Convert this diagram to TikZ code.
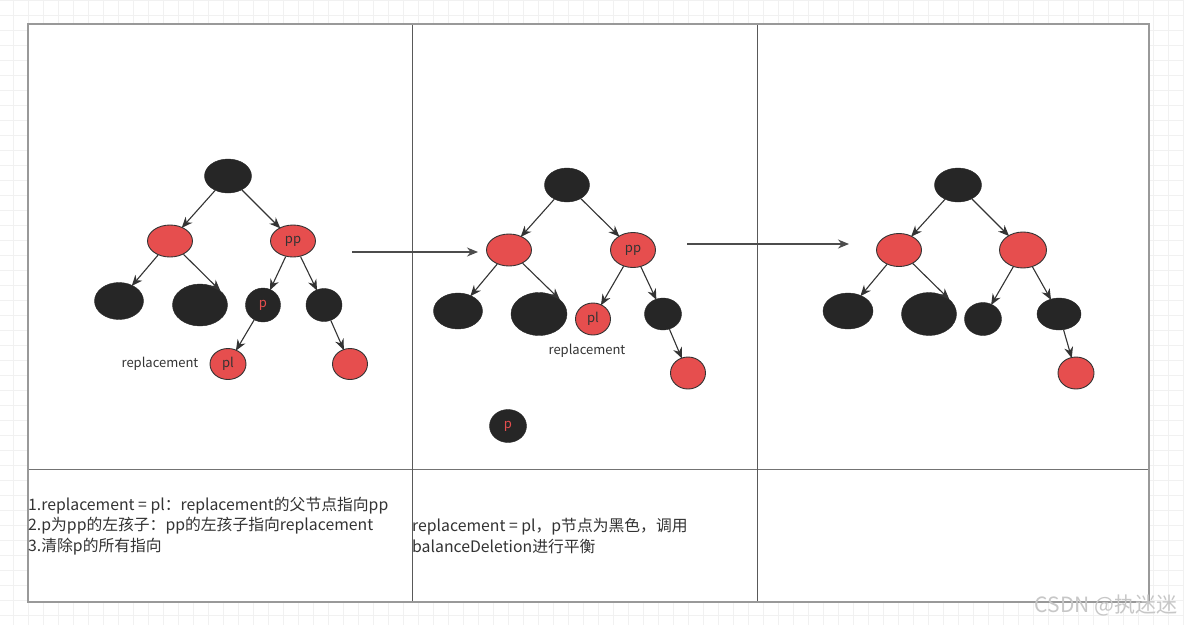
\documentclass[tikz,border=0pt]{standalone}
\usepackage{fontspec}
\setmainfont{Noto Sans CJK SC}
\usepackage{xcolor}
\usetikzlibrary{arrows.meta, shapes.geometric}

\definecolor{nodeblack}{HTML}{262626}
\definecolor{nodered}{HTML}{E64E4E}
\definecolor{linegray}{HTML}{333333}
\definecolor{gridgray}{HTML}{F1F1F1}

\begin{document}
\begin{tikzpicture}[
    x=1pt, y=-1pt,
    every node/.style={font=\fontsize{13}{15}\selectfont, text=linegray},
    bnode/.style={
        ellipse,
        draw=nodeblack,
        fill=nodeblack,
        inner sep=0pt,
        text=nodered
    },
    rnode/.style={
        ellipse,
        draw=linegray,
        line width=0.9pt,
        fill=nodered,
        inner sep=0pt
    },
    edge/.style={-{Stealth[length=11pt, width=9pt]}, draw=linegray, line width=1.1pt, shorten >=-1pt},
    note/.style={anchor=west, align=left, inner sep=0pt,
        font=\fontsize{15.8}{20.5}\selectfont, text=linegray}
]

% background grid
\useasboundingbox (0,0) rectangle (1184,625);
\fill[white] (0,0) rectangle (1184,625);
\foreach \gx in {13,28,...,1184} {
    \draw[gridgray, line width=1pt] (\gx,0) -- (\gx,625);
}
\foreach \gy in {0,15,...,625} {
    \draw[gridgray, line width=1pt] (0,\gy) -- (1184,\gy);
}

% table
\fill[white] (28,24) rectangle (1149,602);
\draw[black!55, line width=0.9pt] (28,469) -- (1149,469);
\draw[black!65, line width=0.9pt] (412,24) -- (412,602);
\draw[black!65, line width=0.9pt] (757,24) -- (757,602);
\draw[black!40, line width=1.6pt] (28,24) rectangle (1149,602);

% panel 1
\node[bnode, minimum width=47, minimum height=34] (root1) at (228,176) {};
\node[rnode, minimum width=45, minimum height=32] (left1) at (170,241) {};
\node[rnode, minimum width=45, minimum height=32] (pp1) at (293,241) {pp};
\node[bnode, minimum width=49, minimum height=37] (ll1) at (119,301) {};
\node[bnode, minimum width=55, minimum height=42] (lr1) at (200,305) {};
\node[bnode, minimum width=35, minimum height=34] (p1) at (263,305) {p};
\node[bnode, minimum width=36, minimum height=33] (rb1) at (324,305) {};
\node[rnode, minimum width=36, minimum height=31] (pl1) at (228,364) {pl};
\node[rnode, minimum width=35, minimum height=31] (rr1) at (350,364) {};
\node (rep1) at (160,364) {replacement};

\draw[edge] (root1) -- (left1);
\draw[edge] (root1) -- (pp1);
\draw[edge] (left1) -- (ll1);
\draw[edge] (left1) -- (lr1.north east);
\draw[edge] (pp1) -- (p1);
\draw[edge] (pp1) -- (rb1);
\draw[edge] (p1) -- (pl1);
\draw[edge] (rb1) -- (rr1);

% panel 2
\node[bnode, minimum width=45, minimum height=34] (root2) at (567,185) {};
\node[rnode, minimum width=45, minimum height=32] (left2) at (509,250) {};
\node[rnode, minimum width=45, minimum height=35] (pp2) at (633,250) {pp};
\node[bnode, minimum width=49, minimum height=36] (ll2) at (458,311) {};
\node[bnode, minimum width=56, minimum height=43] (lr2) at (539,314) {};
\node[rnode, minimum width=35, minimum height=32] (pl2) at (593,319) {pl};
\node[bnode, minimum width=37, minimum height=32] (rb2) at (663,314) {};
\node[rnode, minimum width=35, minimum height=32] (rr2) at (688,373) {};
\node (rep2) at (587,351) {replacement};
\node[bnode, minimum width=37, minimum height=33] (p2) at (508,426) {p};

\draw[edge] (root2) -- (left2);
\draw[edge] (root2) -- (pp2);
\draw[edge] (left2) -- (ll2);
\draw[edge] (left2) -- (lr2.north east);
\draw[edge] (pp2) -- (pl2);
\draw[edge] (pp2) -- (rb2);
\draw[edge] (rb2) -- (rr2);

% panel 3
\node[bnode, minimum width=47, minimum height=34] (root3) at (958,185) {};
\node[rnode, minimum width=45, minimum height=33] (left3) at (899,250) {};
\node[rnode, minimum width=47, minimum height=36] (right3) at (1023,250) {};
\node[bnode, minimum width=50, minimum height=36] (ll3) at (848,311) {};
\node[bnode, minimum width=55, minimum height=43] (lr3) at (929,314) {};
\node[bnode, minimum width=37, minimum height=33] (lb3) at (983,319) {};
\node[bnode, minimum width=44, minimum height=32] (rb3) at (1059,314) {};
\node[rnode, minimum width=36, minimum height=32] (rr3) at (1076,373) {};

\draw[edge] (root3) -- (left3);
\draw[edge] (root3) -- (right3);
\draw[edge] (left3) -- (ll3);
\draw[edge] (left3) -- (lr3.north east);
\draw[edge] (right3) -- (lb3);
\draw[edge] (right3) -- (rb3);
\draw[edge] (rb3) -- (rr3);

% step arrows
\coordinate (s1a) at (352,252);
\coordinate (s1b) at (477,252);
\coordinate (s2a) at (687,244);
\coordinate (s2b) at (848,244);
\draw[edge, draw=black!70, line width=1.2pt] (s1a) -- (s1b);
\draw[edge, draw=black!70, line width=1.2pt] (s2a) -- (s2b);

% notes
\node[note] (note1) at (28,526) {1.replacement = pl：replacement的父节点指向pp\\
2.p为pp的左孩子：pp的左孩子指向replacement\\
3.清除p的所有指向};
\node[note] (note2) at (412,536) {replacement = pl，p节点为黑色，调用\\
balanceDeletion进行平衡};

% watermark
\node[anchor=east, text=black!22, font=\fontsize{21}{24}\selectfont] (mark) at (1181,605) {CSDN @执迷迷};

\end{tikzpicture}
\end{document}
